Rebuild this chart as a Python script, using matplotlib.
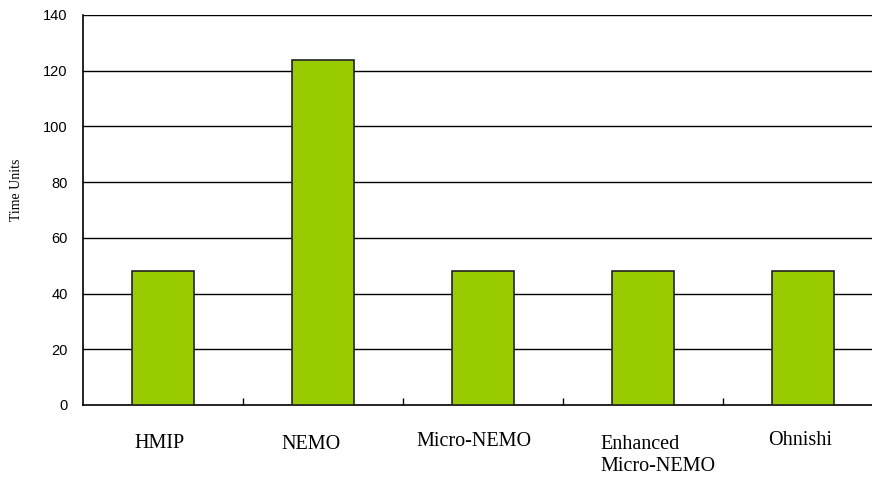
import numpy as np
import matplotlib.pyplot as plt
import matplotlib.transforms as mtransforms

schemes = ["HMIP", "NEMO", "Micro-NEMO", "Enhanced\nMicro-NEMO", "Ohnishi"]
time_units = [48, 124, 48, 48, 48]
yticks = [0, 20, 40, 60, 80, 100, 120, 140]

# hand placement of the category labels (left edge in data units from
# the bar centre, baseline of the last line in axes fraction)
label_dx = [-0.181, -0.2625, -0.419, -0.269, -0.219]
label_y = [-0.110, -0.113, -0.105, -0.170, -0.103]

fig = plt.figure(figsize=(8.72, 4.79), dpi=100)
ax = fig.add_axes([83 / 872, 74 / 479, 1 - 83 / 872, 390 / 479])

x = np.arange(len(schemes))
ax.bar(x, time_units, width=0.39, color="#99cc00", edgecolor="#222222",
       linewidth=1.2, zorder=3)

ax.set_ylim(0, 140)
ax.set_xlim(-0.5, len(schemes) - 0.5 - 11 / 160)
ax.set_yticks(yticks)
for y in yticks[1:]:
    ax.axhline(y, color="black", linewidth=1.0, zorder=1)

ax.tick_params(axis="y", length=0, pad=11, labelsize=10.5)
for lbl in ax.get_yticklabels():
    lbl.set_family("Liberation Sans")

# category names drawn as free text so each can sit where it should
ax.set_xticks([])
trans = mtransforms.blended_transform_factory(ax.transData, ax.transAxes)
for i, name in enumerate(schemes):
    ax.text(x[i] + label_dx[i], label_y[i], name, transform=trans,
            ha="left", va="baseline", family="Liberation Serif",
            fontsize=14.5, linespacing=1.25, clip_on=False)

ax.set_xticks(np.arange(len(schemes) - 1) + 0.5, minor=True)
ax.tick_params(axis="x", which="minor", direction="in", length=5,
               width=1, color="black", labelbottom=False)

ax.spines["top"].set_visible(False)
ax.spines["right"].set_visible(False)
ax.spines["left"].set_linewidth(1.2)
ax.spines["bottom"].set_linewidth(1.2)

fig.text(17 / 872, 1 - 190 / 479, "Time Units", rotation=90,
         ha="center", va="center", family="Liberation Serif", fontsize=10)

fig.savefig("out.png", dpi=100)
